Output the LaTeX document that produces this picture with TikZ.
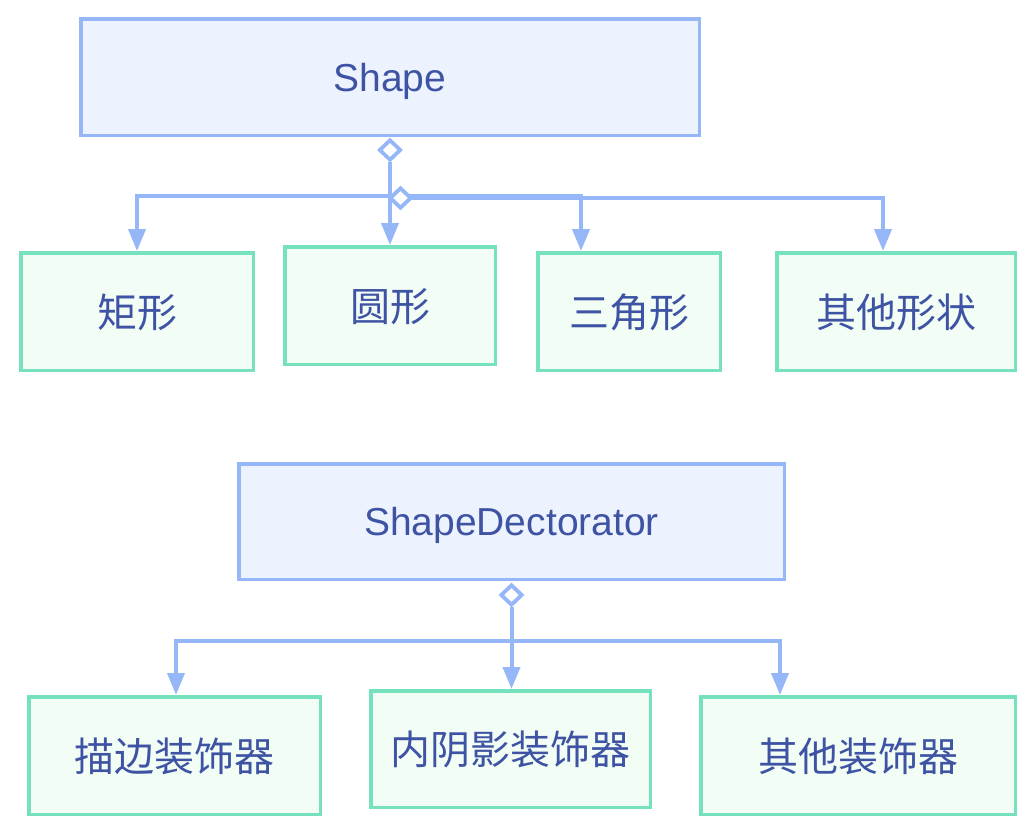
\documentclass[tikz,border=0pt]{standalone}
\usepackage{fontspec}
\setmainfont{Liberation Sans}
\newfontfamily\cjk{Noto Sans CJK SC}
\usetikzlibrary{arrows.meta,shapes.geometric}
\definecolor{bborder}{RGB}{150,183,247}
\definecolor{bfill}{RGB}{236,243,254}
\definecolor{gborder}{RGB}{118,225,189}
\definecolor{gfill}{RGB}{242,253,246}
\definecolor{txt}{RGB}{62,83,163}
\definecolor{conncol}{RGB}{150,183,247}
\begin{document}
\begin{tikzpicture}[x=1pt,y=-1pt,
  parentbox/.style={draw=bborder, fill=bfill, line width=3.5pt, text=txt,
    font=\fontsize{39}{47}\selectfont, inner sep=0pt, text height=28pt, text depth=0pt},
  childbox/.style={draw=gborder, fill=gfill, line width=3.5pt, text=txt,
    font=\cjk\fontsize{40}{48}\selectfont, inner sep=0pt, text height=31pt, text depth=0pt,
    minimum height=117.5pt},
  conn/.style={draw=conncol, line width=4pt, -{Triangle[length=22pt,width=17pt]}},
  hub/.style={shape=diamond, draw=conncol, fill=white, line width=3.8pt,
    minimum width=22pt, minimum height=21pt, inner sep=0pt}]
\useasboundingbox (0,0) rectangle (1026,838);

% top group
\node[parentbox, minimum width=618.5pt, minimum height=116.5pt] (shape) at (390,77) {Shape};
\node[childbox, minimum width=232.5pt] (rect) at (137,311.5) {矩形};
\node[childbox, minimum width=210.5pt] (circ) at (390,305.5) {圆形};
\node[childbox, minimum width=182.5pt] (tri) at (629,311.5) {三角形};
\node[childbox, minimum width=238.5pt] (oth) at (896,311.5) {其他形状};

\coordinate (busA) at (0,195.5);
\coordinate (busB) at (0,198);
\node[hub] (h1) at ([yshift=-13pt]shape.south) {};
\draw[conn] (h1.south) -- (h1.south |- busA) -| (rect.north);
\draw[conn] (h1.south) -- (circ.north);
\draw[conn] (h1.south) -- (h1.south |- busA) -| ([xshift=-48pt]tri.north);
\coordinate (h2c) at ([xshift=10.5pt]h1.south |- busB);
\draw[conn] (h2c) -| ([xshift=-13pt]oth.north);
\node[hub] (h2) at (h2c) {};

% bottom group
\node[parentbox, minimum width=545.5pt, minimum height=115.5pt] (dec) at (511.5,521.5) {ShapeDectorator};
\node[childbox, minimum width=291.5pt] (dA) at (174.5,755.5) {描边装饰器};
\node[childbox, minimum width=279.5pt, minimum height=116.5pt] (dB) at (510.5,749) {内阴影装饰器};
\node[childbox, minimum width=314.5pt] (dC) at (858,755.5) {其他装饰器};

\coordinate (busC) at (0,640.5);
\node[hub] (h3) at ([yshift=-14pt]dec.south) {};
\draw[conn] (h3.south) -- (h3.south |- busC) -| ([xshift=1.5pt]dA.north);
\draw[conn] (h3.south) -- (h3.south |- dB.north);
\draw[conn] (h3.south) -- (h3.south |- busC) -| ([xshift=-78pt]dC.north);
\end{tikzpicture}
\end{document}
